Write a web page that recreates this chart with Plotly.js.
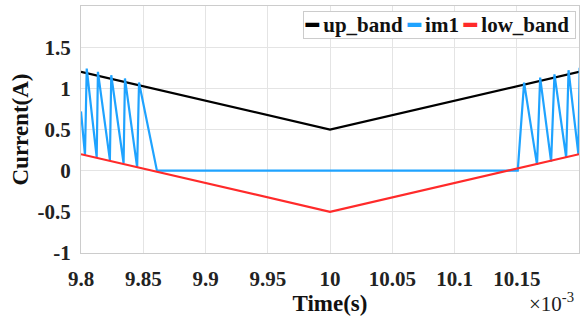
<!DOCTYPE html>
<html><head><meta charset="utf-8">
<script src="https://cdn.plot.ly/plotly-3.0.1.min.js"></script>
<style>html,body{margin:0;padding:0;background:#fff;}#c{width:587px;height:322px;}</style>
</head><body><div id="c"></div>
<script>
// time in units of 1e-3 s
const bandT = [9.8, 10.0, 10.2];
const upBand = [1.2, 0.5, 1.2];
const lowBand = [0.2, -0.5, 0.2];
const im1T = [9.8, 9.8032, 9.8046, 9.8126, 9.8136, 9.8232, 9.8243, 9.8342, 9.8353, 9.8451, 9.8466, 9.861,
              10.1508, 10.1559, 10.1663, 10.1688, 10.1776, 10.1803, 10.1897, 10.1916, 10.1995, 10.2005];
const im1V = [0.72, 0.19, 1.24, 0.16, 1.2, 0.13, 1.16, 0.09, 1.12, 0.04, 1.07, 0.0,
              0.0, 1.07, 0.07, 1.13, 0.11, 1.17, 0.16, 1.22, 0.2, 1.25];
const xTicks = [9.8, 9.85, 9.9, 9.95, 10, 10.05, 10.1, 10.15];
const xTickText = ['9.8', '9.85', '9.9', '9.95', '10', '10.05', '10.1', '10.15'];
const yTicks = [-1, -0.5, 0, 0.5, 1, 1.5];
const yTickText = ['-1', '-0.5', '0', '0.5', '1', '1.5'];
const seriesNames = ['up_band', 'im1', 'low_band'];
const seriesColors = ['#000000', '#1fa3ff', '#ff2a2a'];

const F = 'Liberation Serif';
const traces = [
  {x: bandT, y: upBand, name: seriesNames[0], mode: 'lines', line: {color: seriesColors[0], width: 2.2}},
  {x: im1T, y: im1V, name: seriesNames[1], mode: 'lines', line: {color: seriesColors[1], width: 2.2}},
  {x: bandT, y: lowBand, name: seriesNames[2], mode: 'lines', line: {color: seriesColors[2], width: 2.2}}
];
const legendText = seriesNames.map((n, i) =>
  '<span style="color:' + seriesColors[i] + '">━</span>\u2009' + n).join(' ') + ' ';
const layout = {
  width: 587, height: 322,
  margin: {l: 81, r: 8, t: 6, b: 69},
  paper_bgcolor: '#fff', plot_bgcolor: '#fff',
  font: {family: F, color: '#222', size: 16},
  showlegend: false,
  xaxis: {range: [9.8, 10.2], tickvals: xTicks, ticktext: xTickText,
    showgrid: true, gridcolor: '#e4e4e4', gridwidth: 1, zeroline: false,
    showline: true, linecolor: '#cccccc', linewidth: 1, mirror: true,
    ticks: '', ticklabelstandoff: 7,
    tickfont: {family: F, size: 21, color: '#222', weight: 'bold'},
    title: {text: 'Time(s)', font: {family: F, size: 23, color: '#111', weight: 'bold'}, standoff: 0}},
  yaxis: {range: [-1, 2], tickvals: yTicks, ticktext: yTickText,
    showgrid: true, gridcolor: '#e4e4e4', gridwidth: 1, zeroline: false,
    showline: true, linecolor: '#cccccc', linewidth: 1, mirror: true,
    ticks: '', ticklabelstandoff: 5,
    tickfont: {family: F, size: 21, color: '#222', weight: 'bold'},
    title: {text: 'Current(A)', font: {family: F, size: 23, color: '#111', weight: 'bold'}, standoff: 2}},
  annotations: [
    {xref: 'paper', yref: 'paper', x: 0.993, y: -0.262, xanchor: 'right', yanchor: 'bottom',
     text: '×10<sup>-3</sup>', showarrow: false, font: {family: F, size: 21, color: '#222'}},
    {xref: 'paper', yref: 'paper', x: 0.994, y: 0.98, xanchor: 'right', yanchor: 'top',
     text: legendText, showarrow: false, bgcolor: '#fff', bordercolor: '#cccccc', borderwidth: 1, borderpad: 1,
     font: {family: F, size: 21, color: '#111', weight: 'bold'}}
  ]
};
Plotly.newPlot('c', traces, layout, {displayModeBar: false, staticPlot: true});
</script></body></html>
